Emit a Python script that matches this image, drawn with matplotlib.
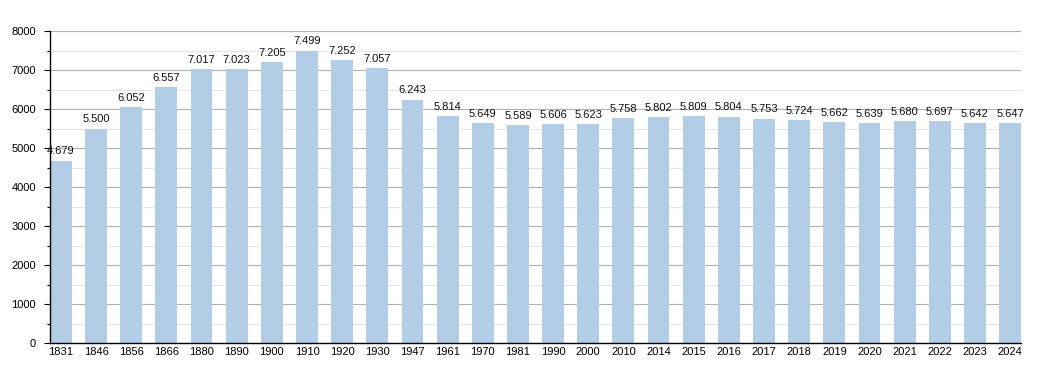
import matplotlib.pyplot as plt
from matplotlib.ticker import MultipleLocator

plt.rcParams['font.family'] = ['Liberation Sans', 'DejaVu Sans']

years = ['1831', '1846', '1856', '1866', '1880', '1890', '1900', '1910', '1920', '1930',
         '1947', '1961', '1970', '1981', '1990', '2000', '2010', '2014', '2015', '2016',
         '2017', '2018', '2019', '2020', '2021', '2022', '2023', '2024']
population = [4679, 5500, 6052, 6557, 7017, 7023, 7205, 7499, 7252, 7057,
              6243, 5814, 5649, 5589, 5606, 5623, 5758, 5802, 5809, 5804,
              5753, 5724, 5662, 5639, 5680, 5697, 5642, 5647]

fig = plt.figure(figsize=(10.5, 3.73), dpi=100)
ax = fig.add_axes([50 / 1050, 30 / 373, 971 / 1050, 312 / 373])

x = list(range(len(years)))
w = 0.62
ax.bar(x, population, width=w, color='#b3cde6', zorder=2)

# labels above bars, thousands with a dot
for xi, v in zip(x, population):
    ax.annotate(f'{v:,}'.replace(',', '.'), (xi, v), xytext=(0, 3),
                textcoords='offset points', ha='center', va='bottom',
                fontsize=8, color='#111111')

ax.set_xlim(-w / 2, len(years) - 1 + w / 2)
ax.set_ylim(0, 8000)
ax.set_xticks(x)
ax.set_xticklabels(years, fontsize=8)
ax.yaxis.set_major_locator(MultipleLocator(1000))
ax.yaxis.set_minor_locator(MultipleLocator(500))
ax.tick_params(axis='y', labelsize=8, length=4, width=0.8, pad=6)
ax.tick_params(axis='y', which='minor', length=2.5, width=0.8)
ax.tick_params(axis='x', length=0, pad=3)

ax.grid(axis='y', which='major', color='#b0b0b0', linewidth=0.8, zorder=0)
ax.grid(axis='y', which='minor', color='#e4e4e4', linewidth=0.8, zorder=0)
ax.set_axisbelow(True)

for s in ['top', 'right']:
    ax.spines[s].set_visible(False)
ax.spines['left'].set_linewidth(1)
ax.spines['bottom'].set_linewidth(1)

fig.savefig('out.png', dpi=100)
